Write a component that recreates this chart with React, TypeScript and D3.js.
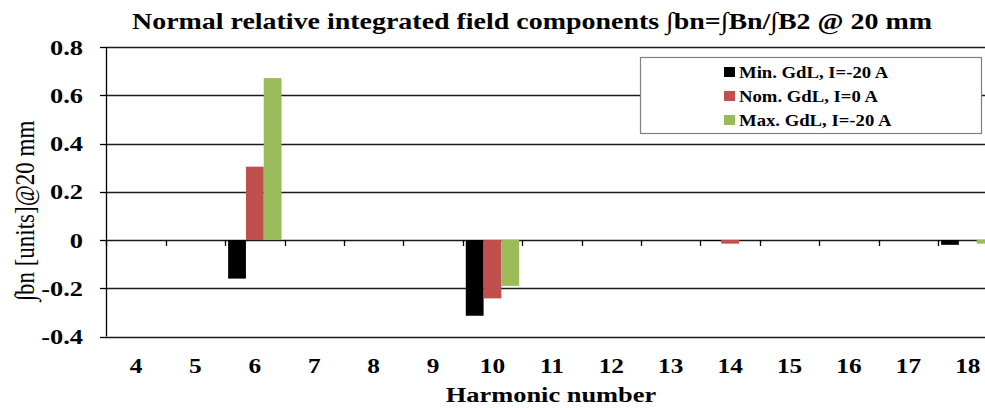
import React from "react";
import * as d3 from "d3";

const categories = ["4", "5", "6", "7", "8", "9", "10", "11", "12", "13", "14", "15", "16", "17", "18"];
const seriesNames = ["Min. GdL, I=-20 A", "Nom. GdL, I=0 A", "Max. GdL, I=-20 A"];
const seriesColors = ["#000000", "#C0504D", "#9BBB59"];
const minGdL = [0, 0, -0.16, 0, 0, 0, -0.314, 0, 0, 0, -0.004, 0, 0, 0, -0.02];
const nomGdL = [0, 0, 0.304, 0, 0, 0, -0.242, 0, 0, 0, -0.015, 0, 0, 0, 0];
const maxGdL = [0, 0, 0.671, 0, 0, 0, -0.19, 0, 0, 0, 0, 0, 0, 0, -0.015];
const yTicks = [-0.4, -0.2, 0, 0.2, 0.4, 0.6, 0.8];

const W = 985;
const H = 408;
const FONT = "'Liberation Serif', 'Times New Roman', serif";

export default function App() {
  const series = [minGdL, nomGdL, maxGdL];
  const x = d3.scaleBand<string>().domain(categories).range([106.3, 997.5]).paddingInner(0).paddingOuter(0);
  const bw = x.bandwidth();
  const inner = d3
    .scaleBand<number>()
    .domain([0, 1, 2])
    .range([(bw - 53.4) / 2, (bw + 53.4) / 2]);
  const y = d3.scaleLinear().domain([-0.4, 0.8]).range([336.5, 47]);
  const y0 = y(0);

  const fmt = (v: number) => (v === 0 ? "0" : d3.format(".1f")(v).replace("\u2212", "-"));

  return (
    <svg width={W} height={H} style={{ position: "fixed", left: 0, top: 0, background: "#fff" }} fontFamily={FONT}>
      <rect x={0} y={0} width={W} height={H} fill="#fff" />
      {/* gridlines */}
      {yTicks.map((t) => (
        <line key={"g" + t} x1={106} x2={W} y1={Math.round(y(t)) + 0.5} y2={Math.round(y(t)) + 0.5} stroke="#1a1a1a" strokeWidth={1.3} />
      ))}
      {/* bars */}
      {categories.map((c, i) =>
        series.map((s, k) => {
          const v = s[i];
          if (v === 0) return null;
          const bx = (x(c) as number) + (inner(k) as number);
          const top = Math.min(y(v), y0);
          const h = Math.abs(y(v) - y0);
          return <rect key={c + "-" + k} x={bx} y={top} width={inner.bandwidth()} height={Math.max(h, 1)} fill={seriesColors[k]} />;
        })
      )}
      {/* y axis */}
      <line x1={106.5} x2={106.5} y1={y(0.8)} y2={y(-0.4)} stroke="#000" strokeWidth={1.3} />
      {yTicks.map((t) => (
        <g key={"yt" + t}>
          <line x1={100} x2={106} y1={Math.round(y(t)) + 0.5} y2={Math.round(y(t)) + 0.5} stroke="#000" strokeWidth={1.3} />
          <text transform={`translate(83,${y(t) + 7.5}) scale(1.2,1)`} textAnchor="end" fontSize={22} fontWeight="bold">
            {fmt(t)}
          </text>
        </g>
      ))}
      {/* x axis ticks at zero line */}
      {categories.map((c) => (
        <line key={"xt" + c} x1={Math.round(x(c) as number) + 0.5} x2={Math.round(x(c) as number) + 0.5} y1={y0} y2={y0 + 6} stroke="#000" strokeWidth={1.3} />
      ))}
      {/* x labels */}
      {categories.map((c) => (
        <text
          key={"xl" + c}
          transform={`translate(${(x(c) as number) + bw / 2},373) scale(1.15,1)`}
          textAnchor="middle"
          fontSize={22}
          fontWeight="bold"
        >
          {c}
        </text>
      ))}
      {/* axis titles */}
      <text transform="translate(551,402) scale(1.2,1)" textAnchor="middle" fontSize={22} fontWeight="bold">
        Harmonic number
      </text>
      <text transform="translate(34,211) rotate(-90) scale(1,1.2)" textAnchor="middle" fontSize={23}>
        ∫bn [units]@20 mm
      </text>
      {/* title */}
      <text x={532} y={29} textAnchor="middle" fontSize={24} fontWeight="bold" textLength={800} lengthAdjust="spacingAndGlyphs">
        Normal relative integrated field components ∫bn=∫Bn/∫B2 @ 20 mm
      </text>
      {/* legend */}
      <rect x={640.5} y={57.5} width={341} height={76} fill="#fff" stroke="#808080" strokeWidth={1.2} />
      {seriesNames.map((n, k) => (
        <g key={"lg" + k}>
          <rect x={724} y={[67, 91, 115][k]} width={11} height={10} fill={seriesColors[k]} />
          <text transform={`translate(739,${[78, 102, 126][k]}) scale(1.1,1)`} fontSize={17} fontWeight="bold">
            {n}
          </text>
        </g>
      ))}
    </svg>
  );
}
